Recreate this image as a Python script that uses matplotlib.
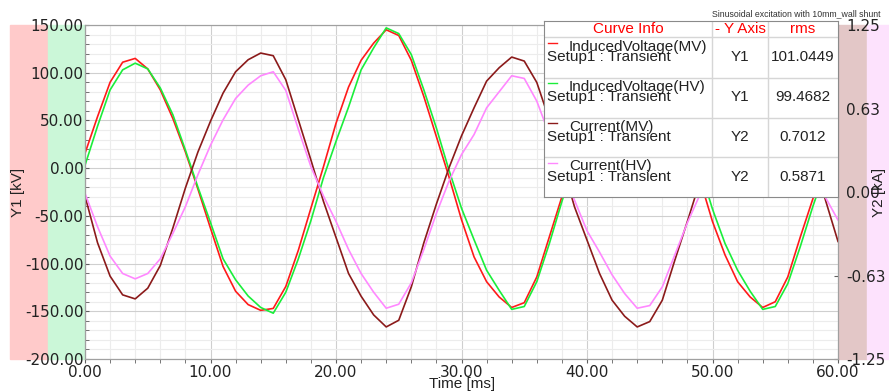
import numpy as np
import matplotlib
matplotlib.use("Agg")
import matplotlib.pyplot as plt
from matplotlib.patches import Rectangle
from matplotlib.ticker import MultipleLocator, FixedLocator

plt.rcParams['font.family'] = ['Liberation Sans', 'DejaVu Sans']

# time axis [ms], one sample per ms
time_ms = list(range(61))

# Y1 [kV]
induced_mv = [15.5, 54, 90, 111, 115, 104, 82, 52, 17, -22,
              -63, -103, -129, -143, -149, -147, -124, -86, -42, 1.5,
              47, 85, 113, 131, 145, 139, 113, 75, 33, -9,
              -54, -93, -119, -135, -146, -141, -114, -72, -30, 12,
              56, 95, 122, 137, 146, 140, 114, 75, 33, -12,
              -56, -91, -119, -135, -146, -140, -114, -72, -32, 10, 52]
induced_hv = [3, 44, 82, 103, 110, 104, 84, 56, 19, -20,
              -57, -95, -117, -134, -146, -152, -130, -95, -55, -10,
              28, 64, 103, 126, 147, 141, 119, 82, 42, -2,
              -42, -75, -107, -128, -148, -145, -119, -79, -35, 6,
              45, 83, 112, 132, 147, 143, 120, 83, 42, 0,
              -43, -79, -107, -129, -148, -145, -121, -82, -40, -2, 40]

# Y2 [kA]
current_mv = [-0.03, -0.38, -0.63, -0.77, -0.80, -0.72, -0.55, -0.27, 0.03, 0.30,
              0.53, 0.74, 0.90, 0.99, 1.04, 1.02, 0.84, 0.54, 0.24, -0.07,
              -0.34, -0.61, -0.78, -0.92, -1.01, -0.96, -0.71, -0.38, -0.09, 0.18,
              0.42, 0.63, 0.83, 0.93, 1.01, 0.98, 0.82, 0.54, 0.22, -0.11,
              -0.36, -0.61, -0.81, -0.93, -1.01, -0.97, -0.81, -0.51, -0.22, 0.08,
              0.38, 0.64, 0.84, 0.95, 1.01, 0.98, 0.82, 0.55, 0.25, -0.06, -0.37]
current_hv = [-0.01, -0.26, -0.48, -0.61, -0.65, -0.61, -0.50, -0.31, -0.11, 0.13,
              0.35, 0.54, 0.70, 0.80, 0.87, 0.90, 0.76, 0.47, 0.19, -0.03,
              -0.22, -0.43, -0.61, -0.75, -0.87, -0.84, -0.68, -0.43, -0.16, 0.08,
              0.28, 0.43, 0.63, 0.75, 0.87, 0.85, 0.68, 0.43, 0.15, -0.06,
              -0.29, -0.45, -0.62, -0.76, -0.87, -0.85, -0.71, -0.47, -0.23, -0.02,
              0.28, 0.52, 0.68, 0.79, 0.87, 0.85, 0.69, 0.45, 0.19, -0.04, -0.21]

curve_names = ["InducedVoltage(MV)", "InducedVoltage(HV)", "Current(MV)", "Current(HV)"]
curve_axis = ["Y1", "Y1", "Y2", "Y2"]
curve_rms = ["101.0449", "99.4682", "0.7012", "0.5871"]
colors = ["#ff1a1a", "#1aee3a", "#8b1a1a", "#ff88ff"]

W, H = 889, 392


def fr(x, y):
    return x / W, 1 - y / H


fig = plt.figure(figsize=(W / 100, H / 100), dpi=100)

# coloured axis bands
for x0, x1, c in [(10, 48, "#ffcaca"), (48, 84, "#cbf7d8"),
                  (838, 867, "#e3c7c7"), (867, 889, "#fde2fd")]:
    fig.add_artist(Rectangle(fr(x0, 359), (x1 - x0) / W, 334 / H,
                             transform=fig.transFigure, color=c, zorder=-5))

ax = fig.add_axes([85 / W, 33 / H, 753 / W, 334 / H])
ax.plot(time_ms, induced_mv, color=colors[0], lw=1.2)
ax.plot(time_ms, induced_hv, color=colors[1], lw=1.2)
ax.set_xlim(0, 60)
ax.set_ylim(-200, 150)
ax.xaxis.set_major_locator(MultipleLocator(10))
ax.xaxis.set_minor_locator(MultipleLocator(2))
ax.yaxis.set_major_locator(MultipleLocator(50))
ax.yaxis.set_minor_locator(MultipleLocator(10))
ax.xaxis.set_major_formatter(lambda v, p: f"{v:.2f}")
ax.yaxis.set_major_formatter(lambda v, p: f"{v:.2f}")
ax.grid(which="major", color="#cfcfcf", lw=0.8)
ax.grid(which="minor", color="#ececec", lw=0.8)
ax.set_axisbelow(True)
ax.tick_params(axis="y", which="both", direction="in", length=3, pad=1,
               labelsize=11, labelfontfamily="DejaVu Sans", colors="#606060",
               labelcolor="#222222")
ax.tick_params(axis="x", which="both", direction="out", length=3, pad=1,
               labelsize=11, labelfontfamily="DejaVu Sans", colors="#606060",
               labelcolor="#222222")
for s in ax.spines.values():
    s.set_color("#a0a0a0")
ax.spines["left"].set_color("#707070")
ax.spines["bottom"].set_color("#909090")

ax2 = ax.twinx()
ax2.plot(time_ms, current_mv, color=colors[2], lw=1.2)
ax2.plot(time_ms, current_hv, color=colors[3], lw=1.2)
ax2.set_ylim(-1.25, 1.25)
ax2.yaxis.set_major_locator(FixedLocator([-1.25, -0.625, 0, 0.625, 1.25]))
ax2.yaxis.set_major_formatter(lambda v, p: f"{v:.2f}".replace("0.62", "0.63"))
ax2.tick_params(axis="y", direction="in", length=3, pad=6, labelsize=11,
                labelfontfamily="DejaVu Sans", colors="#606060",
                labelcolor="#222222")
for s in ax2.spines.values():
    s.set_color("#a0a0a0")

fig.text(*fr(18, 192), "Y1 [kV]", rotation=90, ha="center", va="center",
         fontsize=11, color="#222222")
fig.text(*fr(879, 192), "Y2 [kA]", rotation=90, ha="center", va="center",
         fontsize=11, color="#222222")
fig.text(*fr(462, 384), "Time [ms]", ha="center", va="center",
         fontsize=11, color="#222222")
fig.text(*fr(880, 14), "Sinusoidal excitation with 10mm_wall shunt",
         ha="right", va="center", fontsize=6.3, color="#333333")

# curve info table
leg = fig.add_axes([544 / W, 1 - 197 / H, 294 / W, 176 / H])
leg.set_xlim(544, 838)
leg.set_ylim(197, 21)
leg.set_xticks([])
leg.set_yticks([])
for s in leg.spines.values():
    s.set_color("#8a8a8a")
for yy in [37, 78, 118, 157]:
    leg.plot([544, 838], [yy, yy], color="#d6d6d6", lw=1)
for xx in [712, 768]:
    leg.plot([xx, xx], [21, 197], color="#d6d6d6", lw=1)
for xx, txt in [(628, "Curve Info"), (740, "- Y Axis"), (803, "rms")]:
    leg.text(xx, 29, txt, color="red", ha="center", va="center", fontsize=11)
line1 = [46.7, 86.5, 126.7, 166]
line2 = [57.3, 97.3, 137.3, 176.7]
for i in range(4):
    leg.plot([548, 557], [line1[i] - 3.5] * 2, color=colors[i], lw=1)
    leg.text(569, line1[i], curve_names[i], ha="left", va="center",
             fontsize=11, color="#222222")
    leg.text(547, line2[i], "Setup1 : Transient", ha="left", va="center",
             fontsize=11, color="#222222")
    leg.text(740, line2[i], curve_axis[i], ha="center", va="center",
             fontsize=11, color="#222222")
    leg.text(803, line2[i], curve_rms[i], ha="center", va="center",
             fontsize=11, color="#222222")

fig.savefig("out.png", dpi=100)
